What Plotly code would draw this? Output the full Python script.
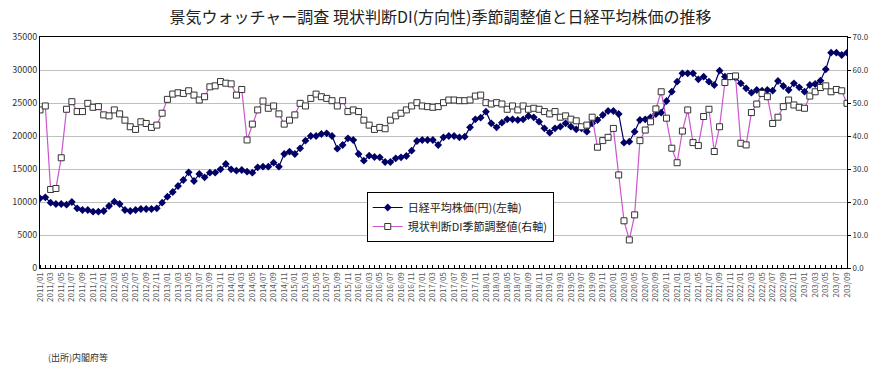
import plotly.graph_objects as go

# Month labels 2011/01 .. 2023/09 (monthly)
months = []
for y in range(2011, 2024):
    for m in range(1, 13):
        if y == 2023 and m > 9:
            break
        months.append(f"{y}/{m:02d}")
# tick labels as printed on the chart (every other month)
tick_labels = [("203" + lab[4:]) if lab.startswith("2023") else lab for lab in months]

nikkei = [
    10556, 10707, 9899, 9697, 9697, 9596, 10000, 9040, 8788, 8788, 8535, 8535,
    8636, 9394, 10050, 9697, 8788, 8636, 8788, 8939, 8939, 8939, 9040, 9899,
    10808, 11515, 12424, 13333, 14495, 13182, 14242, 13737, 14444, 14444, 14949, 15757,
    14949, 14747, 14848, 14596, 14444, 15252, 15353, 15353, 15959, 15353, 17272, 17626,
    17272, 18131, 19292, 20000, 20000, 20303, 20404, 20000, 18080, 18636, 19646, 19394,
    17272, 16263, 17020, 16818, 16768, 16060, 16060, 16616, 16768, 16970, 17778, 19242,
    19394, 19394, 19394, 18636, 19798, 20000, 20000, 19798, 19899, 21313, 22525, 22778,
    23687, 21919, 21313, 22020, 22525, 22525, 22424, 22525, 23030, 22828, 22172, 21162,
    20505, 21162, 21414, 21919, 21414, 21010, 21162, 20656, 21919, 22424, 23182, 23788,
    23788, 23333, 18990, 19141, 20656, 22424, 22525, 22828, 23333, 23535, 25303, 26717,
    28232, 29495, 29495, 29495, 28586, 28990, 28232, 27727, 29899, 28990, 28990, 28838,
    27980, 27222, 26566, 26970, 26869, 26970, 26869, 28333, 27576, 26970, 27980, 27374,
    26717, 27727, 27879, 28384, 30101, 32626, 32626, 32272, 32626,
]

di = [
    47.9, 49.1, 23.8, 24.1, 33.4, 48.1, 50.4, 47.4, 47.4, 49.9, 48.7, 48.9,
    46.4, 46.1, 47.9, 46.7, 44.8, 42.8, 42.0, 44.3, 43.8, 42.6, 43.3, 46.9,
    51.1, 52.7, 53.1, 52.9, 53.7, 52.4, 50.9, 51.9, 54.9, 55.2, 56.5, 56.0,
    55.8, 52.4, 54.1, 38.8, 43.6, 47.9, 50.6, 48.4, 49.1, 46.7, 43.6, 44.8,
    46.4, 49.9, 49.1, 51.4, 52.7, 51.9, 51.4, 50.7, 49.1, 50.7, 47.4, 47.9,
    47.4, 44.8, 43.3, 42.0, 42.6, 42.2, 44.8, 46.1, 46.9, 47.9, 49.1, 50.1,
    49.1, 48.9, 48.7, 48.9, 50.1, 50.9, 50.9, 50.7, 50.7, 50.9, 52.1, 52.4,
    50.1, 49.7, 50.1, 49.7, 48.1, 49.1, 47.9, 49.1, 48.1, 48.4, 48.1, 47.4,
    46.7, 47.4, 45.7, 46.1, 45.1, 44.6, 42.8, 43.3, 45.7, 36.6, 38.6, 39.6,
    42.3, 28.2, 14.3, 8.5, 16.1, 38.6, 41.8, 44.3, 48.2, 53.4, 45.4, 36.3,
    31.9, 41.5, 47.9, 38.0, 37.1, 45.9, 48.1, 35.3, 42.8, 56.2, 58.0, 58.2,
    37.8, 37.3, 47.1, 49.7, 52.9, 51.9, 43.8, 45.7, 48.9, 50.9, 49.4, 48.7,
    48.4, 52.1, 53.4, 54.7, 55.2, 53.4, 54.1, 53.7, 49.9,
]

left_ticks = list(range(0, 35001, 5000))
right_ticks = [i * 10 for i in range(8)]

FONT = "Noto Sans CJK JP"
x = list(range(len(months)))

fig = go.Figure()
fig.add_trace(go.Scatter(
    x=x, y=nikkei, name="日経平均株価(円)(左軸)", mode="lines+markers",
    line=dict(color="#000066", width=1.2),
    marker=dict(symbol="diamond", size=6, color="#000066"),
    yaxis="y",
))
fig.add_trace(go.Scatter(
    x=x, y=di, name="現状判断DI季節調整値(右軸)", mode="lines+markers",
    line=dict(color="#CC55CC", width=1.2),
    marker=dict(symbol="square", size=6, color="white",
                line=dict(color="#333333", width=1)),
    yaxis="y2",
))

fig.update_layout(
    width=881, height=381,
    margin=dict(l=34, r=27, t=37, b=113),
    paper_bgcolor="white", plot_bgcolor="white",
    font=dict(family=FONT, color="#333333"),
    title=dict(text="景気ウォッチャー調査 現状判断DI(方向性)季節調整値と日経平均株価の推移",
               x=0.5, xanchor="center", y=0.955, yanchor="middle",
               font=dict(family=FONT, size=16, color="#222222")),
    showlegend=True,
    legend=dict(x=(366 - 34) / 820, y=(268 - 192) / 231, xanchor="left", yanchor="top",
                bordercolor="#000000", borderwidth=1, bgcolor="white",
                font=dict(family=FONT, size=11, color="#222222"),
                tracegroupgap=4, itemwidth=30),
    xaxis=dict(
        range=[0, len(months) - 1],
        tickmode="array", tickvals=x[::2], ticktext=tick_labels[::2],
        tickangle=-90, tickfont=dict(family=FONT, size=8, color="#555555"),
        ticks="", showgrid=False, zeroline=False,
        showline=True, linecolor="#000000", linewidth=1, mirror=True,
        minor=dict(ticks="inside", dtick=1, tick0=0, ticklen=3, tickcolor="#000000", showgrid=False),
    ),
    yaxis=dict(
        range=[0, 35000], tickmode="array", tickvals=left_ticks,
        ticktext=[str(v) for v in left_ticks],
        tickfont=dict(family=FONT, size=9, color="#333333"),
        showgrid=True, gridcolor="#C0C0C0", gridwidth=1, zeroline=False,
        showline=True, linecolor="#000000", linewidth=1,
        ticks="",
    ),
    yaxis2=dict(
        range=[0, 70], tickmode="array", tickvals=right_ticks,
        ticktext=[f"{v:.1f}" for v in right_ticks],
        overlaying="y", side="right",
        tickfont=dict(family=FONT, size=8, color="#333333"),
        showgrid=False, zeroline=False,
        showline=True, linecolor="#000000", linewidth=1,
        ticks="outside", ticklen=3, tickcolor="#000000",
    ),
    annotations=[dict(text="(出所)内閣府等", xref="paper", yref="paper",
                      x=(40 - 34) / 820, y=-(357 - 268) / 231,
                      xanchor="left", yanchor="middle", showarrow=False,
                      font=dict(family=FONT, size=9, color="#333333"))],
)

fig.write_html("out.html", config={"displayModeBar": False},
               post_script="document.body.style.margin='0px';")
